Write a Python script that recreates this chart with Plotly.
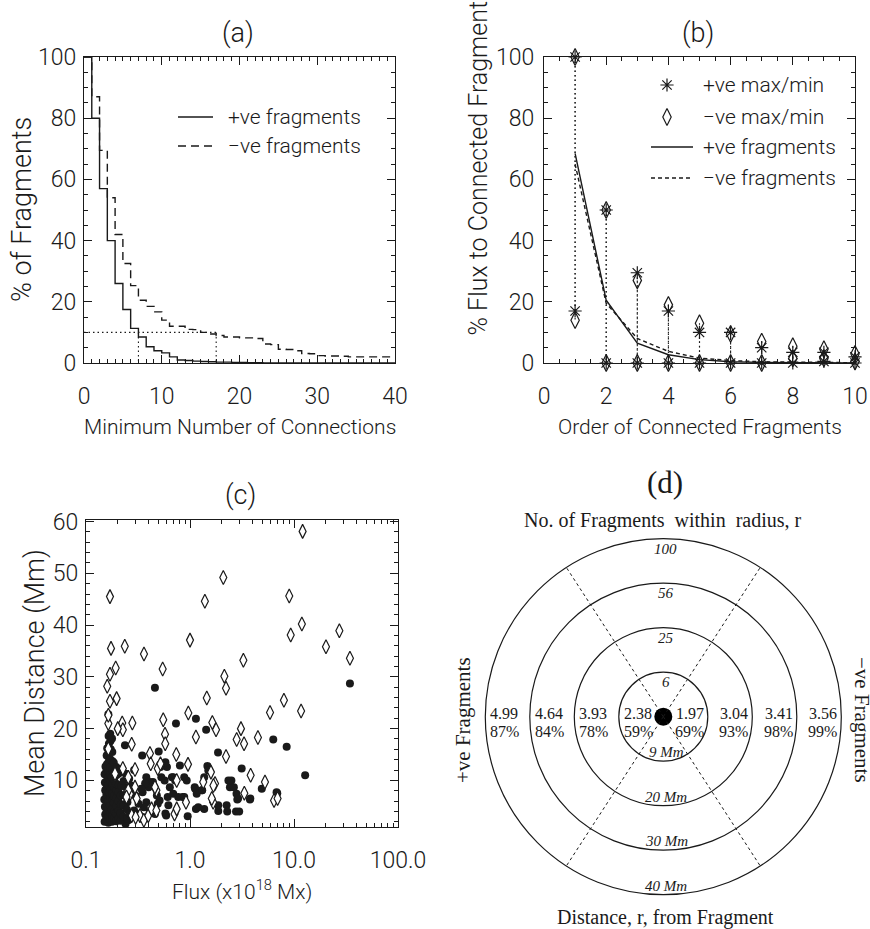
import math
import plotly.graph_objects as go

W, H = 870, 929
SANS = "Roboto"
SERIF = "Liberation Serif"
INK = "#1a1a1a"

# ---------------- panel (a) data ----------------
min_connections = list(range(41))
pos_frac_pct = [100, 80, 57, 40, 26, 17.5, 11.3, 8.5, 5.3, 4.0,
                3.3, 2.0, 1.0, 0.8, 0.6, 0.5, 0.4, 0.3, 0.3, 0.2,
                0.2, 0.1, 0.1, 0, 0, 0, 0, 0, 0, 0,
                0, 0, 0, 0, 0, 0, 0, 0, 0, 0, 0]
neg_frac_pct = [100, 87, 69.5, 54, 42, 32.5, 25.3, 20.5, 18.5, 16.7,
                14, 12, 12, 11, 10.9, 10, 9.5, 9, 8.5, 8.5,
                8.2, 8.2, 8.0, 6.2, 6.0, 4.5, 4.4, 4.0, 3.1, 3.0,
                2.4, 2.3, 2.3, 2.2, 2.0, 2.0, 2.0, 2.0, 2.0, 2.0, 2.0]
threshold_pct = 10
pos_threshold_conn = 7
neg_threshold_conn = 17

# ---------------- panel (b) data ----------------
fragment_order = [1, 2, 3, 4, 5, 6, 7, 8, 9, 10]
pos_flux_pct = [68.5, 20.5, 6.5, 2.7, 1.1, 0.4, 0.2, 0.1, 0.1, 0.05]
neg_flux_pct = [65.0, 19.5, 8.0, 3.8, 1.6, 0.8, 0.4, 0.3, 0.2, 0.1]
pos_max_pct = [100, 50, 29.5, 17, 10, 10, 5, 3.5, 3.5, 2]
pos_min_pct = [17, 0, 0, 0, 0, 0, 0, 0, 0.5, 0]
neg_max_pct = [100, 50, 27, 19, 13, 9.5, 7, 5.5, 4.5, 3]
neg_min_pct = [14, 0, 0, 0, 0, 0, 0, 1.5, 1.5, 0.5]

# ---------------- panel (c) data ----------------
pos_flux = [0.46, 34.5, 1.14, 0.733, 1.43, 6.32, 8.5, 1.86, 0.50, 0.347,
            0.237, 12.8, 3.14, 4.9, 6.9, 3.77, 2.85, 2.34, 2.42, 2.25,
            2.77, 2.97, 2.28, 1.87, 1.47, 1.37, 1.30, 1.11, 1.14, 1.37,
            0.95, 0.85, 0.80, 0.69, 0.64, 0.61, 0.60, 0.58, 0.51, 0.41,
            0.38, 0.35, 0.36, 0.46, 0.24, 0.24, 0.25, 0.24, 0.26, 0.38,
            0.40, 0.41, 0.44, 0.48, 0.58, 0.57, 0.62, 0.59, 0.67, 0.72,
            0.69, 0.77, 0.88, 0.93, 0.88, 1.12, 1.20, 1.16, 1.31, 1.50,
            1.87, 2.50, 2.64, 2.80, 2.90, 3.80, 6.8, 0.52, 0.53, 0.37,
            0.34, 0.46, 0.49, 0.32, 0.32, 0.29, 0.255, 0.30, 0.27, 0.29]
pos_dist = [27.9, 28.7, 21.9, 21.0, 19.8, 17.9, 16.5, 15.4, 15.6, 14.8,
            16.8, 11.0, 12.3, 8.4, 7.5, 6.3, 6.3, 10.0, 8.7, 5.2,
            4.0, 4.0, 4.0, 4.1, 12.8, 10.6, 8.1, 8.7, 4.5, 4.5,
            3.1, 6.8, 12.9, 10.6, 8.7, 6.8, 12.6, 3.6, 6.1, 9.7,
            5.8, 7.7, 4.8, 4.5, 11.3, 8.7, 5.8, 1.6, 10.3, 10.6,
            8.7, 3.9, 9.7, 7.1, 13.5, 10.0, 5.2, 3.2, 10.6, 10.0,
            7.4, 6.8, 10.6, 10.0, 6.8, 8.4, 4.8, 7.4, 8.1, 11.9,
            5.2, 10.0, 8.7, 7.4, 6.5, 6.5, 7.7, 12.6, 10.6, 9.4,
            8.4, 3.5, 5.5, 5.5, 3.5, 4.2, 2.3, 7.0, 9.0, 12.0]
# dense core of small +ve fragments
pos_core_flux = [0.151, 0.153, 0.152, 0.150, 0.153, 0.152, 0.151, 0.154,
                 0.157, 0.158, 0.159, 0.157, 0.158, 0.160, 0.157, 0.159, 0.158, 0.160,
                 0.164, 0.165, 0.163, 0.164, 0.166, 0.164, 0.165, 0.163, 0.165, 0.164, 0.166, 0.165, 0.164,
                 0.171, 0.172, 0.170, 0.171, 0.173, 0.171, 0.170, 0.172, 0.171, 0.173, 0.172, 0.171,
                 0.178, 0.179, 0.177, 0.180, 0.178, 0.179, 0.177, 0.178, 0.180, 0.179, 0.178,
                 0.186, 0.187, 0.185, 0.186, 0.188, 0.186, 0.187, 0.185,
                 0.195, 0.194, 0.196, 0.195, 0.197, 0.194, 0.196, 0.195,
                 0.205, 0.206, 0.204, 0.205, 0.207, 0.205,
                 0.216, 0.215, 0.217, 0.216, 0.218, 0.216,
                 0.230, 0.229, 0.231, 0.230,
                 0.248, 0.247, 0.249,
                 0.265, 0.266]
pos_core_dist = [2.0, 3.4, 4.9, 6.3, 8.1, 9.6, 11.2, 12.7,
                 2.6, 4.1, 5.6, 7.2, 8.6, 10.1, 11.7, 13.1, 14.8, 16.2,
                 1.8, 3.1, 4.6, 6.0, 7.6, 9.1, 10.5, 12.1, 13.6, 15.2, 17.1, 18.6, 22.8,
                 2.4, 3.7, 5.2, 6.7, 8.2, 9.7, 11.1, 12.6, 14.1, 16.0, 17.6, 19.0,
                 2.0, 3.2, 4.4, 6.1, 7.4, 9.2, 10.6, 12.0, 13.7, 15.5, 18.1,
                 2.7, 4.0, 5.7, 7.0, 8.7, 10.2, 11.6, 13.4,
                 2.1, 3.6, 5.1, 6.6, 8.0, 9.4, 11.0, 12.6,
                 2.6, 4.2, 6.0, 7.7, 9.1, 11.3,
                 2.2, 3.7, 5.4, 7.1, 8.9, 12.2,
                 3.0, 5.1, 7.2, 9.9,
                 2.6, 4.4, 6.2,
                 3.6, 8.0]
neg_flux = [12.1, 2.09, 0.170, 1.39, 9.0,
            11.9, 9.3, 27.3, 20.3, 34.5,
            1.0, 0.361, 0.236, 0.174, 0.193,
            0.170, 0.160, 0.170, 0.197, 0.546,
            3.26, 2.14, 2.22, 1.45, 8.0,
            5.88, 11.7, 0.964, 0.553, 1.64,
            1.78, 1.14, 0.575, 0.578, 0.164,
            0.164, 0.223, 0.226, 0.202, 0.279,
            0.275, 3.09, 2.81, 3.31, 4.5,
            2.22, 0.738, 0.412, 0.419, 0.957,
            0.296, 3.83, 5.26, 6.43, 6.95,
            1.59, 1.74, 1.67, 3.33, 0.164,
            0.226, 0.296, 0.265, 0.307, 0.275,
            0.33, 0.36, 0.397, 0.427, 0.475,
            0.475, 0.49, 0.46, 0.52, 0.745,
            0.71, 0.745, 0.915, 1.34, 1.62,
            1.68, 0.19, 0.255, 0.255, 0.30,
            0.245]
neg_dist = [58.1, 49.2, 45.5, 44.6, 45.6,
            40.2, 38.1, 38.9, 35.8, 33.6,
            37.1, 34.4, 35.9, 35.5, 31.7,
            30.5, 28.2, 25.3, 25.8, 31.5,
            33.2, 30.1, 27.8, 25.9, 25.5,
            23.1, 23.4, 23.0, 21.7, 21.2,
            19.8, 18.4, 18.9, 17.1, 21.0,
            22.6, 21.1, 19.8, 20.0, 21.1,
            17.0, 20.0, 17.9, 17.1, 18.3,
            14.6, 15.0, 15.2, 13.2, 13.1,
            12.1, 11.0, 9.7, 6.1, 6.5,
            11.6, 9.4, 5.8, 7.5, 16.1,
            12.3, 8.7, 7.4, 6.5, 3.2,
            3.2, 2.3, 3.2, 4.5, 4.2,
            8.1, 12.3, 8.7, 13.2, 10.0,
            3.5, 4.5, 5.8, 9.7, 6.5,
            9.0, 11.3, 8.1, 10.6, 2.9,
            6.8]
flux_tick_vals = [0.1, 1, 10, 100]
flux_tick_text = ["0.1", "1.0", "10.0", "100.0"]

# ---------------- panel (d) data ----------------
ring_dist_mm = [9, 20, 30, 40]
ring_count = [6, 25, 56, 100]
pos_ratio = [2.38, 3.93, 4.64, 4.99]
pos_pct = [59, 78, 84, 87]
neg_ratio = [1.97, 3.04, 3.41, 3.56]
neg_pct = [69, 93, 98, 99]

# ---------------- layout helpers (pixels) ----------------
def xd(p0, p1):
    return [p0 / W, p1 / W]

def yd(p0, p1):
    return [1 - p1 / H, 1 - p0 / H]

TICKFONT = dict(family=SANS, size=23, color=INK, weight=300)

def frame(**kw):
    base = dict(showline=True, linecolor=INK, linewidth=1.2, mirror="ticks",
                ticks="inside", ticklen=8, tickwidth=1.1, tickcolor=INK,
                showgrid=False, zeroline=False, fixedrange=True, automargin=False,
                tickfont=TICKFONT)
    base.update(kw)
    return base

def minor(dt):
    return dict(ticks="inside", ticklen=4, tickwidth=1, tickcolor=INK, dtick=dt, showgrid=False)

def hidden(**kw):
    base = dict(visible=False, fixedrange=True, automargin=False)
    base.update(kw)
    return base

fig = go.Figure()
LW = 1.4

# ----- panel (a) -----
fig.add_trace(go.Scatter(x=min_connections, y=pos_frac_pct, mode="lines",
                         line=dict(shape="hv", color=INK, width=LW),
                         xaxis="x", yaxis="y", showlegend=False, hoverinfo="skip"))
fig.add_trace(go.Scatter(x=min_connections, y=neg_frac_pct, mode="lines",
                         line=dict(shape="hv", color=INK, width=LW, dash="8px,5px"),
                         xaxis="x", yaxis="y", showlegend=False, hoverinfo="skip"))
fig.add_trace(go.Scatter(
    x=[0, neg_threshold_conn, None, pos_threshold_conn, pos_threshold_conn, None, neg_threshold_conn, neg_threshold_conn],
    y=[threshold_pct, threshold_pct, None, threshold_pct, 0, None, threshold_pct, 0],
    mode="lines", line=dict(color=INK, width=1.1, dash="1.5px,3px"),
    xaxis="x", yaxis="y", showlegend=False, hoverinfo="skip"))

# ----- panel (b) -----
vx, vy = [], []
for k, a, b in zip(fragment_order, pos_max_pct, pos_min_pct):
    vx += [k, k, None]; vy += [a, b, None]
for k, a, b in zip(fragment_order, neg_max_pct, neg_min_pct):
    vx += [k, k, None]; vy += [a, b, None]
fig.add_trace(go.Scatter(x=vx, y=vy, mode="lines", line=dict(color=INK, width=1.1, dash="1.5px,3px"),
                         xaxis="x2", yaxis="y2", showlegend=False, hoverinfo="skip"))
fig.add_trace(go.Scatter(x=fragment_order, y=pos_flux_pct, mode="lines", line=dict(color=INK, width=LW),
                         xaxis="x2", yaxis="y2", showlegend=False, hoverinfo="skip"))
fig.add_trace(go.Scatter(x=fragment_order, y=neg_flux_pct, mode="lines",
                         line=dict(color=INK, width=LW, dash="4px,3px"),
                         xaxis="x2", yaxis="y2", showlegend=False, hoverinfo="skip"))
fig.add_trace(go.Scatter(x=fragment_order + fragment_order, y=neg_max_pct + neg_min_pct, mode="markers",
                         marker=dict(symbol="diamond-tall-open", size=12, color=INK, line=dict(width=1.2, color=INK)),
                         cliponaxis=False, xaxis="x2", yaxis="y2", showlegend=False, hoverinfo="skip"))
fig.add_trace(go.Scatter(x=fragment_order + fragment_order, y=pos_max_pct + pos_min_pct, mode="markers",
                         marker=dict(symbol="asterisk-open", size=11, color=INK, line=dict(width=1.2, color=INK)),
                         cliponaxis=False, xaxis="x2", yaxis="y2", showlegend=False, hoverinfo="skip"))

# ----- panel (c) -----
fig.add_trace(go.Scatter(x=pos_flux + pos_core_flux, y=pos_dist + pos_core_dist, mode="markers",
                         marker=dict(symbol="circle", size=8, color=INK, line=dict(width=0)),
                         xaxis="x3", yaxis="y3", showlegend=False, hoverinfo="skip"))
fig.add_trace(go.Scatter(x=neg_flux, y=neg_dist, mode="markers",
                         marker=dict(symbol="diamond-tall", size=10, color="white", line=dict(width=1.2, color=INK)),
                         xaxis="x3", yaxis="y3", showlegend=False, hoverinfo="skip"))

# ----- panel (d) -----
UNIT = 44.5
CX, CY = 663.3, 716.7
D_X0, D_X1, D_Y0, D_Y1 = 463, 863, 518, 918
shapes = []
for i, _ in enumerate(ring_dist_mm):
    r = i + 1
    shapes.append(dict(type="circle", xref="x4", yref="y4", x0=-r, x1=r, y0=-r, y1=r,
                       line=dict(color=INK, width=1.2)))
for ang in (57, 123, 237, 303):
    rr = len(ring_dist_mm)
    shapes.append(dict(type="line", xref="x4", yref="y4", x0=0, y0=0,
                       x1=rr * math.cos(math.radians(ang)), y1=rr * math.sin(math.radians(ang)),
                       line=dict(color=INK, width=1, dash="3px,3px")))
fig.add_trace(go.Scatter(x=[0], y=[0], mode="markers", marker=dict(size=18, color="black"),
                         xaxis="x4", yaxis="y4", showlegend=False, hoverinfo="skip"))

# ----- legends (pixel overlay x5/y5) -----
fig.add_trace(go.Scatter(x=[667], y=[85], mode="markers",
                         marker=dict(symbol="asterisk-open", size=11, color=INK, line=dict(width=1.2, color=INK)),
                         xaxis="x5", yaxis="y5", showlegend=False, hoverinfo="skip"))
fig.add_trace(go.Scatter(x=[667], y=[117], mode="markers",
                         marker=dict(symbol="diamond-tall-open", size=12, color=INK, line=dict(width=1.2, color=INK)),
                         xaxis="x5", yaxis="y5", showlegend=False, hoverinfo="skip"))
for (x0, x1, y, dash) in [(178, 213, 117, None), (178, 213, 146, "8px,5px"),
                          (651, 693, 147, None), (651, 693, 178, "4px,3px")]:
    ln = dict(color=INK, width=LW)
    if dash:
        ln["dash"] = dash
    shapes.append(dict(type="line", xref="x5", yref="y5", x0=x0, x1=x1, y0=y, y1=y, line=ln))

ann = []

def txt(x, y, s, size, family=SANS, angle=0, xa="center", ya="middle", ref=("x5", "y5"), weight=300):
    ann.append(dict(x=x, y=y, xref=ref[0], yref=ref[1], text=s, showarrow=False, textangle=angle,
                    xanchor=xa, yanchor=ya,
                    font=dict(family=family, size=size, color=INK, weight=weight)))

# panel titles and axis titles
txt(238, 33, "(a)", 27)
txt(698, 33, "(b)", 27)
txt(240, 495, "(c)", 27)
txt(22, 210, "% of Fragments", 27, angle=-90)
txt(478, 338, "% Flux to Connected Fragments", 25, angle=-90, ya="bottom")
txt(35, 673, "Mean Distance (Mm)", 27, angle=-90)
txt(240, 427, "Minimum Number of Connections", 21)
txt(700, 427, "Order of Connected Fragments", 21)
txt(242, 890, "Flux (x10<sup>18</sup> Mx)", 21)
# legends
txt(226, 117, "+ve fragments", 21, xa="left")
txt(226, 146, "\u2212ve fragments", 21, xa="left")
txt(701, 85, "+ve max/min", 21, xa="left")
txt(701, 117, "\u2212ve max/min", 21, xa="left")
txt(701, 147, "+ve fragments", 21, xa="left")
txt(701, 178, "\u2212ve fragments", 21, xa="left")
# panel (d)
txt(665, 482, "(d)", 31, family=SERIF, weight=400)
txt(663, 520, "No. of Fragments\u00a0 within\u00a0 radius, r", 20, family=SERIF, weight=400)
txt(665, 917, "Distance, r, from Fragment", 20, family=SERIF, weight=400)
txt(463, 720, "+ve Fragments", 21, family=SERIF, angle=-90, weight=400)
txt(862, 720, "\u2212ve Fragments", 21, family=SERIF, angle=90, weight=400)
for i, (cnt, dmm, pr, pp, nr, npc) in enumerate(zip(ring_count, ring_dist_mm, pos_ratio, pos_pct, neg_ratio, neg_pct)):
    r = i + 1
    txt(0.05, r - 0.23, "<i>%d</i>" % cnt, 15, family=SERIF, ref=("x4", "y4"), weight=400)
    txt(0.07, -(r - 0.2), "<i>%d Mm</i>" % dmm, 15, family=SERIF, ref=("x4", "y4"), weight=400)
    txt(-r + 0.07, 0.08, "%.2f" % pr, 16, family=SERIF, xa="left", ref=("x4", "y4"), weight=400)
    txt(-r + 0.07, -0.34, "%d%%" % pp, 16, family=SERIF, xa="left", ref=("x4", "y4"), weight=400)
    txt(r - 0.05, 0.08, "%.2f" % nr, 16, family=SERIF, xa="right", ref=("x4", "y4"), weight=400)
    txt(r - 0.05, -0.34, "%d%%" % npc, 16, family=SERIF, xa="right", ref=("x4", "y4"), weight=400)

fig.update_layout(
    template="none",
    width=W, height=H, autosize=False,
    margin=dict(l=0, r=0, t=0, b=0, pad=0, autoexpand=False),
    paper_bgcolor="white", plot_bgcolor="rgba(0,0,0,0)",
    showlegend=False,
    xaxis=frame(domain=xd(84, 395), range=[0, 40], tickmode="linear", tick0=0, dtick=10,
                minor=minor(1), anchor="y", ticklabelstandoff=12),
    yaxis=frame(domain=yd(57, 363), range=[0, 100], tickmode="linear", tick0=0, dtick=20,
                minor=minor(5), anchor="x", ticklabelstandoff=2),
    xaxis2=frame(domain=xd(544, 855), range=[0, 10], tickmode="linear", tick0=0, dtick=2,
                 minor=minor(0.5), anchor="y2", ticklabelstandoff=12),
    yaxis2=frame(domain=yd(57, 363), range=[0, 100], tickmode="linear", tick0=0, dtick=20,
                 minor=minor(5), anchor="x2", ticklabelstandoff=4),
    xaxis3=frame(domain=xd(86, 398), type="log", range=[-1, 2], tickmode="array",
                 tickvals=flux_tick_vals, ticktext=flux_tick_text,
                 minor=minor("D1"), anchor="y3", ticklabelstandoff=12),
    yaxis3=frame(domain=yd(520, 827), range=[1, 60.3], tickmode="linear", tick0=0, dtick=10,
                 minor=minor(2), anchor="x3", ticklabelstandoff=2),
    xaxis4=hidden(domain=xd(D_X0, D_X1), range=[(D_X0 - CX) / UNIT, (D_X1 - CX) / UNIT], anchor="y4"),
    yaxis4=hidden(domain=yd(D_Y0, D_Y1), range=[-(D_Y1 - CY) / UNIT, (CY - D_Y0) / UNIT], anchor="x4"),
    xaxis5=hidden(domain=[0, 1], range=[0, W], anchor="y5"),
    yaxis5=hidden(domain=[0, 1], range=[H, 0], anchor="x5"),
    shapes=shapes,
    annotations=ann,
)

fig.write_html("out.html", config={"displayModeBar": False},
               post_script="document.body.style.margin='0';document.body.style.overflow='hidden';")
